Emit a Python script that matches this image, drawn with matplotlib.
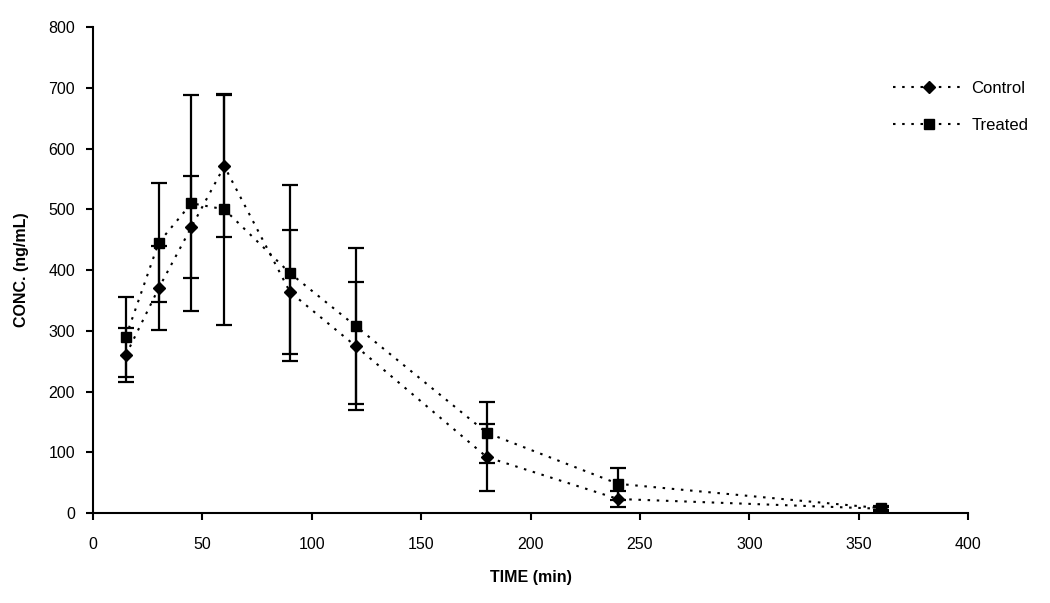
import matplotlib
matplotlib.use("Agg")
import matplotlib.pyplot as plt

plt.rcParams['font.family'] = ['Liberation Sans', 'DejaVu Sans']

time = [15, 30, 45, 60, 90, 120, 180, 240, 360]
control = [260, 370, 471, 571, 364, 275, 92, 23, 7]
control_sd = [45, 69, 84, 117, 102, 106, 55, 13, 3]
treated = [290, 445, 510, 500, 395, 308, 132, 48, 8]
treated_sd = [66, 98, 178, 190, 145, 128, 50, 26, 3]

dots = (0, (1.2, 3.2))

fig = plt.figure(figsize=(10.5, 6.03), dpi=100)
ax = fig.add_axes([0.0886, 0.1493, 0.8334, 0.8057])

ax.errorbar(time, control, yerr=control_sd, color='black', ls=dots, lw=1.5,
            marker='D', ms=6, capsize=6, elinewidth=1.6, capthick=1.6,
            label='Control')
ax.errorbar(time, treated, yerr=treated_sd, color='black', ls=dots, lw=1.5,
            marker='s', ms=7, capsize=6, elinewidth=1.6, capthick=1.6,
            label='Treated')

ax.set_xlim(0, 400)
ax.set_ylim(0, 800)
ax.set_xticks(range(0, 401, 50))
ax.set_yticks(range(0, 801, 100))
ax.spines['top'].set_visible(False)
ax.spines['right'].set_visible(False)
ax.spines['left'].set_linewidth(1.5)
ax.spines['bottom'].set_linewidth(1.5)
ax.tick_params(direction='out', length=5, width=1.5, labelsize=11.5)
ax.tick_params(axis='x', pad=12)
ax.tick_params(axis='y', pad=8)

ax.set_xlabel('TIME (min)', fontsize=11.5, fontweight='bold', labelpad=13)
ax.set_ylabel('CONC. (ng/mL)', fontsize=11.5, fontweight='bold', labelpad=14)

handles, labels = ax.get_legend_handles_labels()
handles = [h[0] for h in handles]
fig.legend(handles, labels, loc='upper left', bbox_to_anchor=(0.836, 0.89),
           frameon=False, fontsize=12, handlelength=4.3, labelspacing=1.3,
           handletextpad=0.4)

fig.savefig('out.png', dpi=100)
